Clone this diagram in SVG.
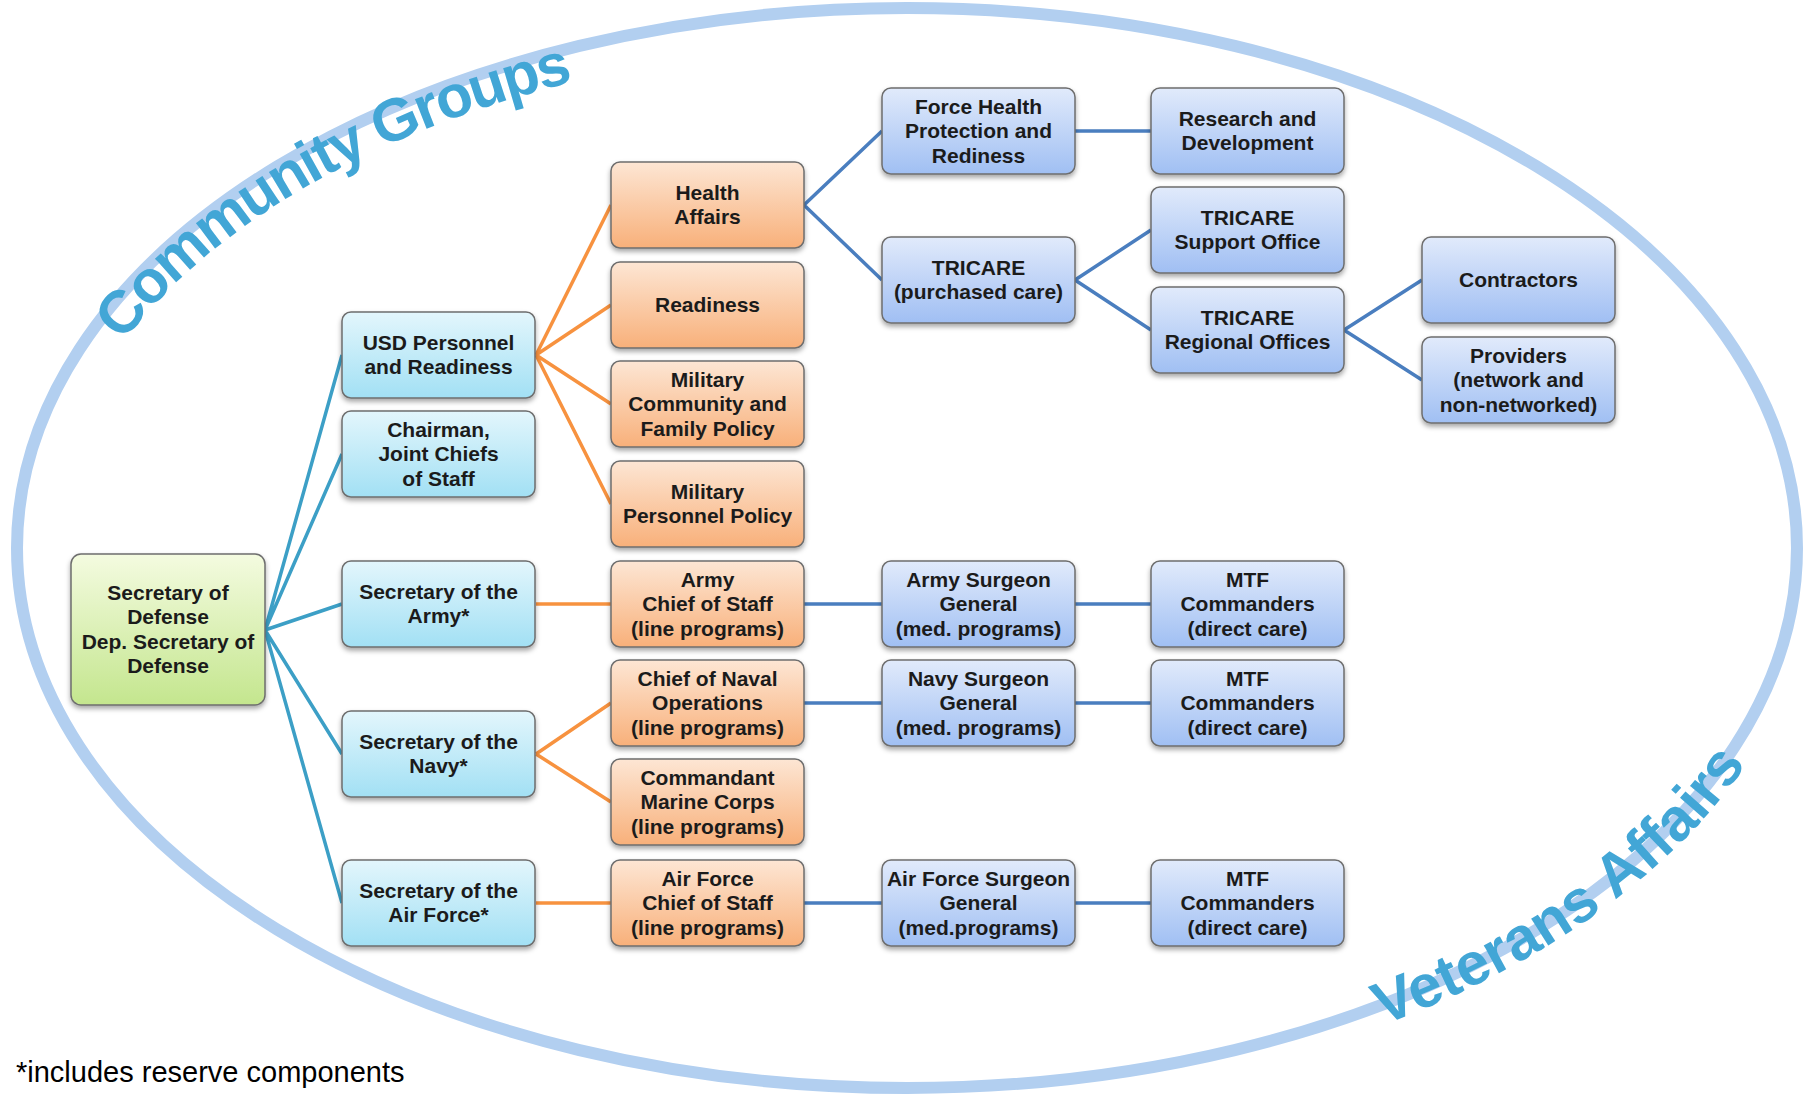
<svg xmlns="http://www.w3.org/2000/svg" width="1807" height="1095" viewBox="0 0 1807 1095">
<defs>
<linearGradient id="gGreen" x1="0" y1="0" x2="0" y2="1"><stop offset="0" stop-color="#f4fbe0"/><stop offset="1" stop-color="#c4e68e"/></linearGradient>
<linearGradient id="gCyan" x1="0" y1="0" x2="0" y2="1"><stop offset="0" stop-color="#e3f6fc"/><stop offset="1" stop-color="#a2e0f4"/></linearGradient>
<linearGradient id="gOrange" x1="0" y1="0" x2="0" y2="1"><stop offset="0" stop-color="#fde6d4"/><stop offset="1" stop-color="#f8b07a"/></linearGradient>
<linearGradient id="gBlue" x1="0" y1="0" x2="0" y2="1"><stop offset="0" stop-color="#e1eafb"/><stop offset="1" stop-color="#a0bff3"/></linearGradient>
<filter id="sh" x="-10%" y="-10%" width="120%" height="130%"><feDropShadow dx="0" dy="3" stdDeviation="2.5" flood-color="#000" flood-opacity="0.35"/></filter>
<path id="arcTop" d="M 123.2 342.2 A 858 506 0 0 1 758 49.7"/>
<path id="arcBot" d="M 1382.5 1025.5 A 910 560 0 0 0 1786 692.9"/>
<style>
.box{stroke:#6e6e6e;stroke-width:1.5;filter:url(#sh)}
.green{fill:url(#gGreen)}.cyan{fill:url(#gCyan)}.orange{fill:url(#gOrange)}.blue{fill:url(#gBlue)}
.t{font-family:"Liberation Sans",Arial,sans-serif;font-weight:bold;font-size:21px;fill:#1b1b1b;text-anchor:middle}
.teal{stroke:#3c9fc6;stroke-width:3.5;fill:none}
.or{stroke:#f7923f;stroke-width:3.5;fill:none}
.bl{stroke:#4a7ebf;stroke-width:3.5;fill:none}
.arc{font-family:"Liberation Sans",Arial,sans-serif;font-weight:bold;font-size:60px;fill:#42a6d6}
</style>
</defs>
<rect width="1807" height="1095" fill="#ffffff"/>
<g id="background">
<ellipse cx="907" cy="548" rx="890" ry="540" fill="none" stroke="#b2cff0" stroke-width="12"/>
<text class="arc" letter-spacing="-2"><textPath href="#arcTop">Community Groups</textPath></text>
<text class="arc"><textPath href="#arcBot">Veterans Affairs</textPath></text>
</g>
<g id="connectors">
<path class="teal" d="M265 630 L342 355 M265 630 L342 454 M265 630 L342 604 M265 630 L342 754 M265 630 L342 903"/>
<path class="or" d="M536 355 L611 205 M536 355 L611 305 M536 355 L611 404 M536 355 L611 504 M536 604 L611 604 M536 754 L611 703 M536 754 L611 802 M536 903 L611 903"/>
<path class="bl" d="M804 205 L882 131 M804 205 L882 280 M1075 131 L1151 131 M1075 280 L1151 230 M1075 280 L1151 330 M1344 330 L1422 280 M1344 330 L1422 380 M804 604 L882 604 M1075 604 L1151 604 M804 703 L882 703 M1075 703 L1151 703 M804 903 L882 903 M1075 903 L1151 903"/>
</g>
<g id="secdef"><rect class="box green" x="71" y="554" width="194" height="151" rx="10"/><text class="t"><tspan x="168" y="599.8">Secretary of</tspan><tspan x="168" y="624.3">Defense</tspan><tspan x="168" y="648.8">Dep. Secretary  of</tspan><tspan x="168" y="673.3">Defense</tspan></text></g>
<g id="usd"><rect class="box cyan" x="342" y="312" width="193" height="86" rx="9"/><text class="t"><tspan x="438.5" y="349.8">USD Personnel</tspan><tspan x="438.5" y="374.3">and Readiness</tspan></text></g>
<g id="chairman"><rect class="box cyan" x="342" y="411" width="193" height="86" rx="9"/><text class="t"><tspan x="438.5" y="436.5">Chairman,</tspan><tspan x="438.5" y="461">Joint Chiefs</tspan><tspan x="438.5" y="485.5">of Staff</tspan></text></g>
<g id="secarmy"><rect class="box cyan" x="342" y="561" width="193" height="86" rx="9"/><text class="t"><tspan x="438.5" y="598.8">Secretary of the</tspan><tspan x="438.5" y="623.3">Army*</tspan></text></g>
<g id="secnavy"><rect class="box cyan" x="342" y="711" width="193" height="86" rx="9"/><text class="t"><tspan x="438.5" y="748.8">Secretary of the</tspan><tspan x="438.5" y="773.3">Navy*</tspan></text></g>
<g id="secaf"><rect class="box cyan" x="342" y="860" width="193" height="86" rx="9"/><text class="t"><tspan x="438.5" y="897.8">Secretary of the</tspan><tspan x="438.5" y="922.3">Air Force*</tspan></text></g>
<g id="health"><rect class="box orange" x="611" y="162" width="193" height="86" rx="9"/><text class="t"><tspan x="707.5" y="199.8">Health</tspan><tspan x="707.5" y="224.3">Affairs</tspan></text></g>
<g id="readiness"><rect class="box orange" x="611" y="262" width="193" height="86" rx="9"/><text class="t"><tspan x="707.5" y="312">Readiness</tspan></text></g>
<g id="milcomm"><rect class="box orange" x="611" y="361" width="193" height="86" rx="9"/><text class="t"><tspan x="707.5" y="386.5">Military</tspan><tspan x="707.5" y="411">Community and</tspan><tspan x="707.5" y="435.5">Family Policy</tspan></text></g>
<g id="milpers"><rect class="box orange" x="611" y="461" width="193" height="86" rx="9"/><text class="t"><tspan x="707.5" y="498.8">Military</tspan><tspan x="707.5" y="523.3">Personnel Policy</tspan></text></g>
<g id="armychief"><rect class="box orange" x="611" y="561" width="193" height="86" rx="9"/><text class="t"><tspan x="707.5" y="586.5">Army</tspan><tspan x="707.5" y="611">Chief of Staff</tspan><tspan x="707.5" y="635.5">(line programs)</tspan></text></g>
<g id="cno"><rect class="box orange" x="611" y="660" width="193" height="86" rx="9"/><text class="t"><tspan x="707.5" y="685.5">Chief of Naval</tspan><tspan x="707.5" y="710">Operations</tspan><tspan x="707.5" y="734.5">(line programs)</tspan></text></g>
<g id="commandant"><rect class="box orange" x="611" y="759" width="193" height="86" rx="9"/><text class="t"><tspan x="707.5" y="784.5">Commandant</tspan><tspan x="707.5" y="809">Marine Corps</tspan><tspan x="707.5" y="833.5">(line programs)</tspan></text></g>
<g id="afchief"><rect class="box orange" x="611" y="860" width="193" height="86" rx="9"/><text class="t"><tspan x="707.5" y="885.5">Air Force</tspan><tspan x="707.5" y="910">Chief of Staff</tspan><tspan x="707.5" y="934.5">(line programs)</tspan></text></g>
<g id="forcehealth"><rect class="box blue" x="882" y="88" width="193" height="86" rx="9"/><text class="t"><tspan x="978.5" y="113.5">Force Health</tspan><tspan x="978.5" y="138">Protection and</tspan><tspan x="978.5" y="162.5">Rediness</tspan></text></g>
<g id="tricare"><rect class="box blue" x="882" y="237" width="193" height="86" rx="9"/><text class="t"><tspan x="978.5" y="274.8">TRICARE</tspan><tspan x="978.5" y="299.3">(purchased care)</tspan></text></g>
<g id="armysg"><rect class="box blue" x="882" y="561" width="193" height="86" rx="9"/><text class="t"><tspan x="978.5" y="586.5">Army Surgeon</tspan><tspan x="978.5" y="611">General</tspan><tspan x="978.5" y="635.5">(med. programs)</tspan></text></g>
<g id="navysg"><rect class="box blue" x="882" y="660" width="193" height="86" rx="9"/><text class="t"><tspan x="978.5" y="685.5">Navy Surgeon</tspan><tspan x="978.5" y="710">General</tspan><tspan x="978.5" y="734.5">(med. programs)</tspan></text></g>
<g id="afsg"><rect class="box blue" x="882" y="860" width="193" height="86" rx="9"/><text class="t"><tspan x="978.5" y="885.5">Air Force Surgeon</tspan><tspan x="978.5" y="910">General</tspan><tspan x="978.5" y="934.5">(med.programs)</tspan></text></g>
<g id="research"><rect class="box blue" x="1151" y="88" width="193" height="86" rx="9"/><text class="t"><tspan x="1247.5" y="125.8">Research and</tspan><tspan x="1247.5" y="150.3">Development</tspan></text></g>
<g id="tso"><rect class="box blue" x="1151" y="187" width="193" height="86" rx="9"/><text class="t"><tspan x="1247.5" y="224.8">TRICARE</tspan><tspan x="1247.5" y="249.3">Support Office</tspan></text></g>
<g id="tro"><rect class="box blue" x="1151" y="287" width="193" height="86" rx="9"/><text class="t"><tspan x="1247.5" y="324.8">TRICARE</tspan><tspan x="1247.5" y="349.3">Regional Offices</tspan></text></g>
<g id="mtf-army"><rect class="box blue" x="1151" y="561" width="193" height="86" rx="9"/><text class="t"><tspan x="1247.5" y="586.5">MTF</tspan><tspan x="1247.5" y="611">Commanders</tspan><tspan x="1247.5" y="635.5">(direct care)</tspan></text></g>
<g id="mtf-navy"><rect class="box blue" x="1151" y="660" width="193" height="86" rx="9"/><text class="t"><tspan x="1247.5" y="685.5">MTF</tspan><tspan x="1247.5" y="710">Commanders</tspan><tspan x="1247.5" y="734.5">(direct care)</tspan></text></g>
<g id="mtf-af"><rect class="box blue" x="1151" y="860" width="193" height="86" rx="9"/><text class="t"><tspan x="1247.5" y="885.5">MTF</tspan><tspan x="1247.5" y="910">Commanders</tspan><tspan x="1247.5" y="934.5">(direct care)</tspan></text></g>
<g id="contractors"><rect class="box blue" x="1422" y="237" width="193" height="86" rx="9"/><text class="t"><tspan x="1518.5" y="287">Contractors</tspan></text></g>
<g id="providers"><rect class="box blue" x="1422" y="337" width="193" height="86" rx="9"/><text class="t"><tspan x="1518.5" y="362.5">Providers</tspan><tspan x="1518.5" y="387">(network and</tspan><tspan x="1518.5" y="411.5">non-networked)</tspan></text></g>
<text x="16" y="1082" font-family="Liberation Sans, Arial, sans-serif" font-size="29" fill="#000">*includes reserve components</text>
</svg>
